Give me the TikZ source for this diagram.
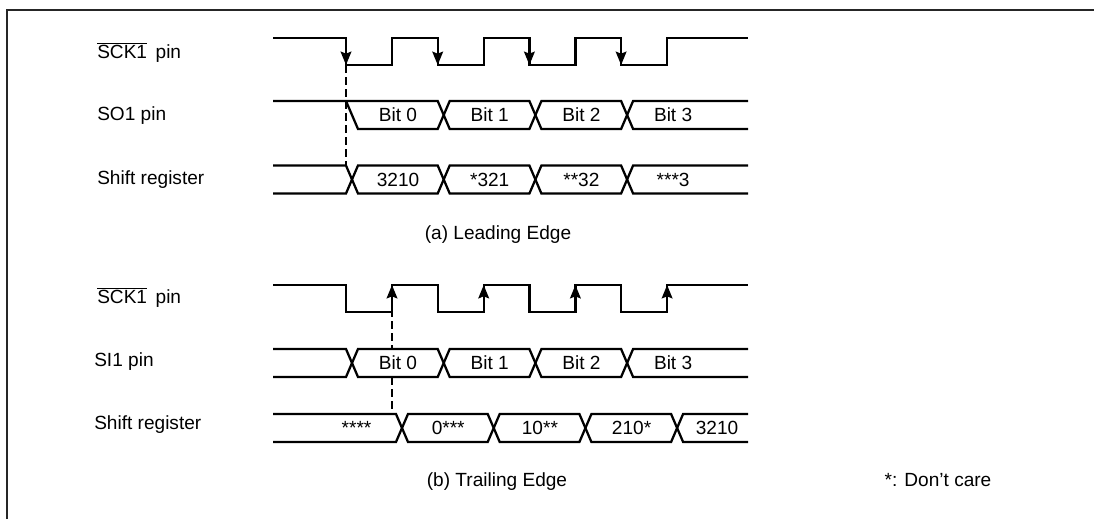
\documentclass[tikz,border=0pt]{standalone}
\usepackage{fontspec}
\setmainfont{Liberation Sans}
\usetikzlibrary{arrows.meta}

% one bus cell between two crossings (left edge, right edge, middle y)
\newcommand{\buscell}[3]{%
  \draw[sig] (#1+6,#3) -- (#1+12,#3-14) -- (#2,#3-14) -- (#2+6,#3) -- (#2,#3+14) -- (#1+12,#3+14) -- cycle;}

\begin{document}
\begin{tikzpicture}[
  x=0.75pt, y=-0.75pt,
  every node/.style={font=\fontsize{14.3}{16}\selectfont, inner sep=0pt},
  sig/.style={line width=1.7pt, line join=miter},
  clkarrow/.style={line width=1.7pt, -{Stealth[length=10pt, width=8pt, inset=1.5pt]}},
  guide/.style={line width=1.1pt, dash pattern=on 6pt off 3pt},
  rowlabel/.style={anchor=west},
  celltext/.style={fill=white, inner sep=1.5pt},
  frame/.style={line width=1.6pt, draw=black!85}
]
\useasboundingbox (0,0) rectangle (1094,519);
\def\per{91.7}
% Frame
\draw[frame] (7,519) -- (7,10) -- (1094,10);

% (a) Leading edge
\node[rowlabel] (sckA) at (97,52) {$\overline{\hbox{SCK1}}$\hskip0.45em pin};
\node[rowlabel] (soA) at (97,116) {SO1 pin};
\node[rowlabel] (regA) at (97,179.5) {Shift register};
\coordinate (tipA) at (346,65);
\coordinate (regtopA) at (346,165.5);
\draw[guide] (tipA) -- (regtopA);
\draw[sig] (273,38) -| (346,65) -| (392,38) -| (437.7,65) -| (483.7,38) -| (529.4,65) -| (575.4,38) -| (621.1,65) -| (667.1,38) -- (748,38);
\foreach \x in {346,437.7,529.4,621.1}
  \draw[clkarrow] (\x,38) -- (\x,65);
% SO1 pin
\draw[sig] (273,101) -- (437.7,101) -- (443.7,115) -- (437.7,129) -- (358,129) -- (346,101);
\foreach \x in {437.7,529.4} \buscell{\x}{\x+\per}{115};
\draw[sig] (748,101) -- (633.1,101) -- (627.1,115) -- (633.1,129) -- (748,129);
% shift register
\draw[sig] (273,165.5) -- (346,165.5) -- (352,179.5) -- (346,193.5) -- (273,193.5);
\foreach \x in {346,437.7,529.4} \buscell{\x}{\x+\per}{179.5};
\draw[sig] (748,165.5) -- (633.1,165.5) -- (627.1,179.5) -- (633.1,193.5) -- (748,193.5);
\foreach \t [count=\i from 0] in {Bit 0,Bit 1,Bit 2,Bit 3}
  \node[celltext] (bitA\i) at (398+\per*\i,115) {\t};
\foreach \t [count=\i from 0] in {3210,*321,**32,***3}
  \node[celltext] (valA\i) at (398+\per*\i,179.5) {\t};
\node (capA) at (498,235) {(a) Leading Edge};

% (b) Trailing edge
\node[rowlabel] (sckB) at (97,297) {$\overline{\hbox{SCK1}}$\hskip0.45em pin};
\node[rowlabel] (siB) at (94,362) {SI1 pin};
\node[rowlabel] (regB) at (94,425) {Shift register};
\coordinate (tipB) at (392,285);
\coordinate (sitopB) at (392,349);
\coordinate (sibotB) at (392,377);
\coordinate (regtopB) at (392,414);
\draw[guide] (tipB) -- (sitopB);
\draw[guide] (sibotB) -- (regtopB);
\draw[sig] (273,285) -| (346,312) -| (392,285) -| (437.7,312) -| (483.7,285) -| (529.4,312) -| (575.4,285) -| (621.1,312) -| (667.1,285) -- (748,285);
\foreach \x in {392,483.7,575.4,667.1}
  \draw[clkarrow] (\x,312) -- (\x,285);
% SI1 pin
\draw[sig] (273,349) -- (346,349) -- (352,363) -- (346,377) -- (273,377);
\foreach \x in {346,437.7,529.4} \buscell{\x}{\x+\per}{363};
\draw[sig] (748,349) -- (633.1,349) -- (627.1,363) -- (633.1,377) -- (748,377);
% shift register
\draw[sig] (273,414) -- (396,414) -- (402,428) -- (396,442) -- (273,442);
\foreach \x in {396,487.7,579.4} \buscell{\x}{\x+\per}{428};
\draw[sig] (748,414) -- (683.1,414) -- (677.1,428) -- (683.1,442) -- (748,442);
\foreach \t [count=\i from 0] in {Bit 0,Bit 1,Bit 2,Bit 3}
  \node[celltext] (bitB\i) at (398+\per*\i,363) {\t};
\foreach \t [count=\i from 0] in {****,0***,10**,210*}
  \node[celltext] (valB\i) at (356.5+\per*\i,428) {\t};
\node[celltext] (valB4) at (717,428) {3210};
\node (capB) at (497,482) {(b) Trailing Edge};
\node (note) at (938,480) {*: Don’t care};
\end{tikzpicture}
\end{document}
